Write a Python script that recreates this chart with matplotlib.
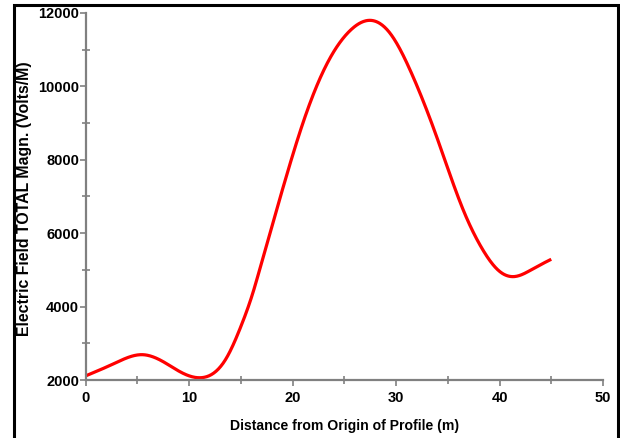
import matplotlib
matplotlib.use("Agg")
import matplotlib.pyplot as plt
from matplotlib.patches import Rectangle
from matplotlib.ticker import MultipleLocator
import numpy as np

distance = [0, 2.7, 5.5, 7.5, 9.1, 11.4, 13.6, 15.0, 16.2, 16.86,
            19.11, 21.04, 23.3, 25.56, 27.5, 29.43, 31.36, 33.9, 36.5,
            38.3, 40.05, 41.5, 43.3, 45.0]
field = [2110, 2440, 2690, 2500, 2230, 2070, 2590, 3450, 4400, 5043,
         7267, 9030, 10600, 11520, 11800, 11447, 10447, 8650, 6630,
         5589, 4950, 4820, 5040, 5290]

xlabel = "Distance from Origin of Profile (m)"
ylabel = "Electric Field TOTAL Magn. (Volts/M)"

plt.rcParams['font.family'] = ['Liberation Sans', 'DejaVu Sans']
plt.rcParams['font.weight'] = 'bold'


def natural_spline(x, y, xq):
    x = np.asarray(x, float)
    y = np.asarray(y, float)
    n = len(x)
    h = np.diff(x)
    A = np.zeros((n, n))
    b = np.zeros(n)
    A[0, 0] = 1
    A[-1, -1] = 1
    for i in range(1, n - 1):
        A[i, i - 1] = h[i - 1]
        A[i, i] = 2 * (h[i - 1] + h[i])
        A[i, i + 1] = h[i]
        b[i] = 6 * ((y[i + 1] - y[i]) / h[i] - (y[i] - y[i - 1]) / h[i - 1])
    M = np.linalg.solve(A, b)
    idx = np.clip(np.searchsorted(x, xq) - 1, 0, n - 2)
    x0, x1 = x[idx], x[idx + 1]
    hh = x1 - x0
    a = (x1 - xq) / hh
    bb = (xq - x0) / hh
    return (a * y[idx] + bb * y[idx + 1]
            + ((a**3 - a) * M[idx] + (bb**3 - bb) * M[idx + 1]) * hh**2 / 6)


fig = plt.figure(figsize=(6.2, 4.38), dpi=100)
fig.patches.append(Rectangle((14/620, -0.1), (618-14)/620, 1 - 5/438 + 0.1,
                             transform=fig.transFigure, fill=False,
                             edgecolor='black', linewidth=2.2))
ax = fig.add_axes([85.5/620, 58/438, 517.5/620, 367/438])

t = np.linspace(distance[0], distance[-1], 800)
ax.plot(t, natural_spline(distance, field, t), color='#ff0000', linewidth=2.3,
        clip_on=False, solid_capstyle='butt')

ax.set_xlim(0, 50)
ax.set_ylim(2000, 12000)
ax.xaxis.set_major_locator(MultipleLocator(10))
ax.xaxis.set_minor_locator(MultipleLocator(5))
ax.yaxis.set_major_locator(MultipleLocator(2000))
ax.yaxis.set_minor_locator(MultipleLocator(1000))
for s in ['top', 'right']:
    ax.spines[s].set_visible(False)
for s in ['left', 'bottom']:
    ax.spines[s].set_color('#808080')
    ax.spines[s].set_linewidth(1.6)
ax.tick_params(which='major', direction='out', length=4, width=1.2, color='#808080',
               labelsize=10.5)
ax.tick_params(axis='x', which='major', pad=4)
ax.tick_params(axis='y', which='major', pad=0.5)
ax.tick_params(which='minor', direction='inout', length=6, width=1.2, color='#808080')
for lab in ax.get_xticklabels() + ax.get_yticklabels():
    lab.set_fontweight('bold')
ax.set_xlabel(xlabel, fontsize=10.1, fontweight='bold')
ax.set_ylabel(ylabel, fontsize=11.4, fontweight='bold')
ax.xaxis.set_label_coords(0.5, -39/367)
ax.yaxis.set_label_coords((32 - 85.5)/517.5, 0.495)

fig.savefig("out.png", dpi=100)
